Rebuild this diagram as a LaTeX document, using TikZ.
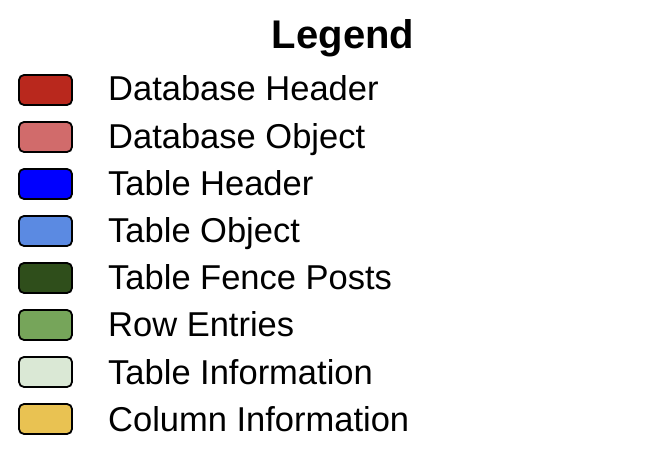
\documentclass[tikz,border=0pt]{standalone}
\usepackage{fontspec}
\setmainfont{Liberation Sans}
\definecolor{dbhead}{HTML}{B9281D}
\definecolor{dbobj}{HTML}{D16B6B}
\definecolor{tblhead}{HTML}{0000FF}
\definecolor{tblobj}{HTML}{5B8AE2}
\definecolor{fence}{HTML}{2F4E1B}
\definecolor{rowent}{HTML}{76A55A}
\definecolor{tblinfo}{HTML}{DAE8D5}
\definecolor{colinfo}{HTML}{E9C252}
\begin{document}
\begin{tikzpicture}[x=1pt,y=-1pt,
  swatch/.style={draw=black, line width=1.8pt, rounded corners=5pt,
    minimum width=53pt, minimum height=30pt, inner sep=0pt},
  entry/.style={anchor=base west, inner sep=0pt,
    font=\fontsize{34.5}{40}\selectfont},
  heading/.style={anchor=base, inner sep=0pt,
    font=\fontsize{40}{46}\selectfont\bfseries}]
\useasboundingbox[fill=white] (0,0) rectangle (670,454);
\node[heading] (title) at (343,49) {Legend};
\foreach \i/\c/\t in {0/dbhead/Database Header, 1/dbobj/Database Object,
  2/tblhead/Table Header, 3/tblobj/Table Object, 4/fence/Table Fence Posts,
  5/rowent/Row Entries, 6/tblinfo/Table Information, 7/colinfo/Column Information}{
  \node[swatch, fill=\c] (sw\i) at (45.5,{90+47*\i}) {};
  \node[entry] (lb\i) at (108,{101+47.2*\i}) {\t};
}
\end{tikzpicture}
\end{document}
